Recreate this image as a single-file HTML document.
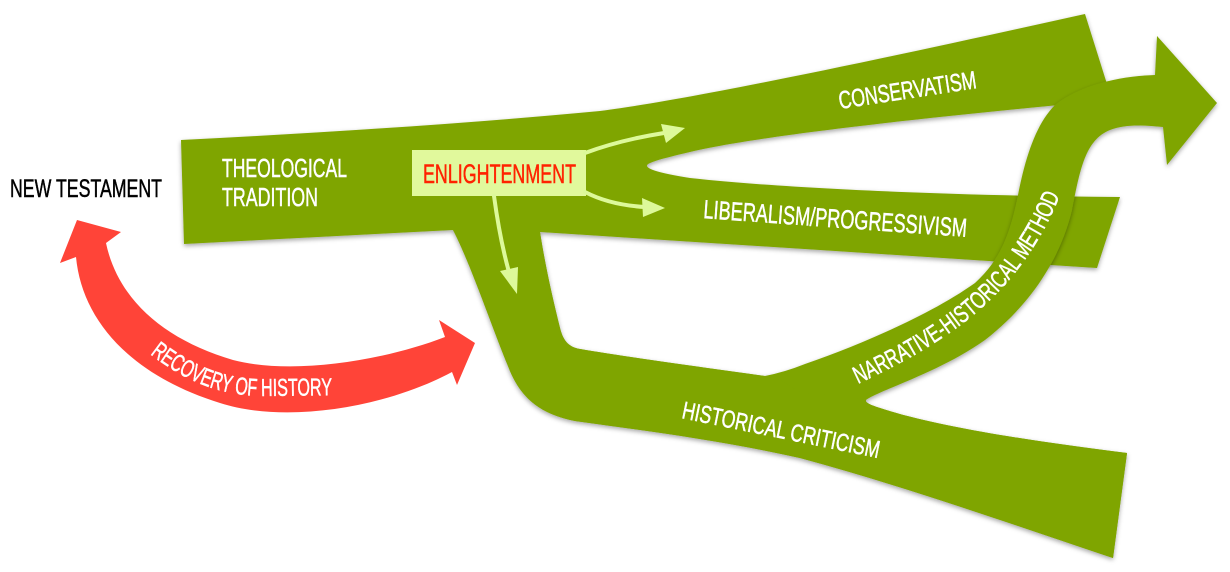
<!DOCTYPE html>
<html>
<head>
<meta charset="utf-8">
<style>
  html, body { margin: 0; padding: 0; background: #ffffff; }
  svg { display: block; }
</style>
</head>
<body>
<svg width="1230" height="572" viewBox="0 0 1230 572" xmlns="http://www.w3.org/2000/svg">
  <defs>
    <filter id="sh" x="-10%" y="-10%" width="120%" height="130%">
      <feDropShadow dx="0" dy="2" stdDeviation="2.5" flood-color="#000" flood-opacity="0.35"/>
    </filter>
    <path id="np" d="M858,384 C940,345 1020,300 1062,190"/>
    <path id="rp" d="M150,354 C185,381 220,396 265,396 L350,395"/>
  </defs>

  <rect width="1230" height="572" fill="#ffffff"/>

  <!-- Red double arrow -->
  <path fill="#ff4438" d="M77,220 L121,232 L106,243 C118,300 165,340 233,360 C290,375 380,362 445,337 L439,320 L475,343 L457,385 L452,372 C385,408 285,424 220,403 C130,375 82,320 76,257 L60,263 Z"/>

  <!-- Green main shapes -->
  <g fill="#7fa500" filter="url(#sh)">
    <path d="M181,140 Q420,128 600,111 C700,98 900,55 1085,14 L1112,100 C950,115 760,135 690,152 C660,159 646,163 647,166 C648,170 665,174 690,178 C780,188 950,196 1120,197 L1097,268 Q820,250 540,232 L453,230 L184,244 Z"/>
    <path d="M450,224 L453,230 C470,262 493,330 508,366 C520,398 540,414 575,421 C640,430 720,440 800,458 C900,485 1000,520 1113,558 L1127,453 C1047,443 940,428 880,408 Q864,403 866,400 L800,392 L780,380 L765,376 C700,367 620,356 580,349 C568,347 563,340 560,328 C553,300 545,265 540,232 L540,224 Z"/>
  </g>
  <!-- Narrative arrow -->
  <path fill="#7fa500" filter="url(#sh)" d="M866,400 C880,390 940,372 985,340 C1030,305 1060,260 1072,210 C1080,170 1085,140 1110,130 C1125,124 1145,125 1163,127 L1167,165 L1217,103 L1157,36 L1155,75 C1120,76 1080,85 1055,105 C1035,125 1025,160 1018,195 C1010,235 1000,260 975,283 C930,315 860,345 805,364 Q785,372 765,376 L770,396 Z"/>
  <!-- redraw lower branch without shadow to hide narrative arrow shadow artifacts -->
  <path fill="#7fa500" d="M450,224 L453,230 C470,262 493,330 508,366 C520,398 540,414 575,421 C640,430 720,440 800,458 C900,485 1000,520 1113,558 L1127,453 C1047,443 940,428 880,408 Q864,403 866,400 L800,392 L780,380 L765,376 C700,367 620,356 580,349 C568,347 563,340 560,328 C553,300 545,265 540,232 L540,224 Z"/>

  <!-- Enlightenment box -->
  <rect x="412" y="150" width="174" height="46" fill="#e1f99c"/>

  <!-- Light green arrows -->
  <g stroke="#ddf99a" stroke-width="4" fill="none" stroke-linecap="round">
    <path d="M585,153 Q620,140 664,133"/>
    <path d="M585,192 Q610,205 645,207"/>
    <path d="M494,196 Q500,240 509,272"/>
  </g>
  <g fill="#ddf99a">
    <polygon points="685,128 661,124 666,143"/>
    <polygon points="665,208 642,198 643,217"/>
    <polygon points="517,294 500,271 518,267"/>
  </g>

  <!-- Labels -->
  <g font-family="'Liberation Sans Narrow','Liberation Sans',sans-serif" fill="#ffffff" stroke="#ffffff" stroke-width="0.5">
    <text x="10" y="197" font-size="25" fill="#000000" stroke="#000000" textLength="152" lengthAdjust="spacingAndGlyphs">NEW TESTAMENT</text>
    <text x="222" y="177" font-size="26" textLength="125" lengthAdjust="spacingAndGlyphs">THEOLOGICAL</text>
    <text x="222" y="206" font-size="26" textLength="96" lengthAdjust="spacingAndGlyphs">TRADITION</text>
    <text x="423" y="183" font-size="27" fill="#ff2200" stroke="#ff2200" textLength="153" lengthAdjust="spacingAndGlyphs">ENLIGHTENMENT</text>
    <text x="840" y="109" font-size="25" transform="rotate(-8.7 840 109)" textLength="139" lengthAdjust="spacingAndGlyphs">CONSERVATISM</text>
    <text x="703" y="218" font-size="26" transform="rotate(4.1 703 218)" textLength="264" lengthAdjust="spacingAndGlyphs">LIBERALISM/PROGRESSIVISM</text>
    <text x="681" y="418" font-size="24.5" transform="rotate(11.5 681 418)" textLength="201" lengthAdjust="spacingAndGlyphs">HISTORICAL CRITICISM</text>
    <text font-size="24.5"><textPath href="#np" textLength="284" lengthAdjust="spacingAndGlyphs">NARRATIVE-HISTORICAL METHOD</textPath></text>
    <text font-size="24.5"><textPath href="#rp" textLength="192" lengthAdjust="spacingAndGlyphs">RECOVERY OF HISTORY</textPath></text>
  </g>
</svg>
</body>
</html>
